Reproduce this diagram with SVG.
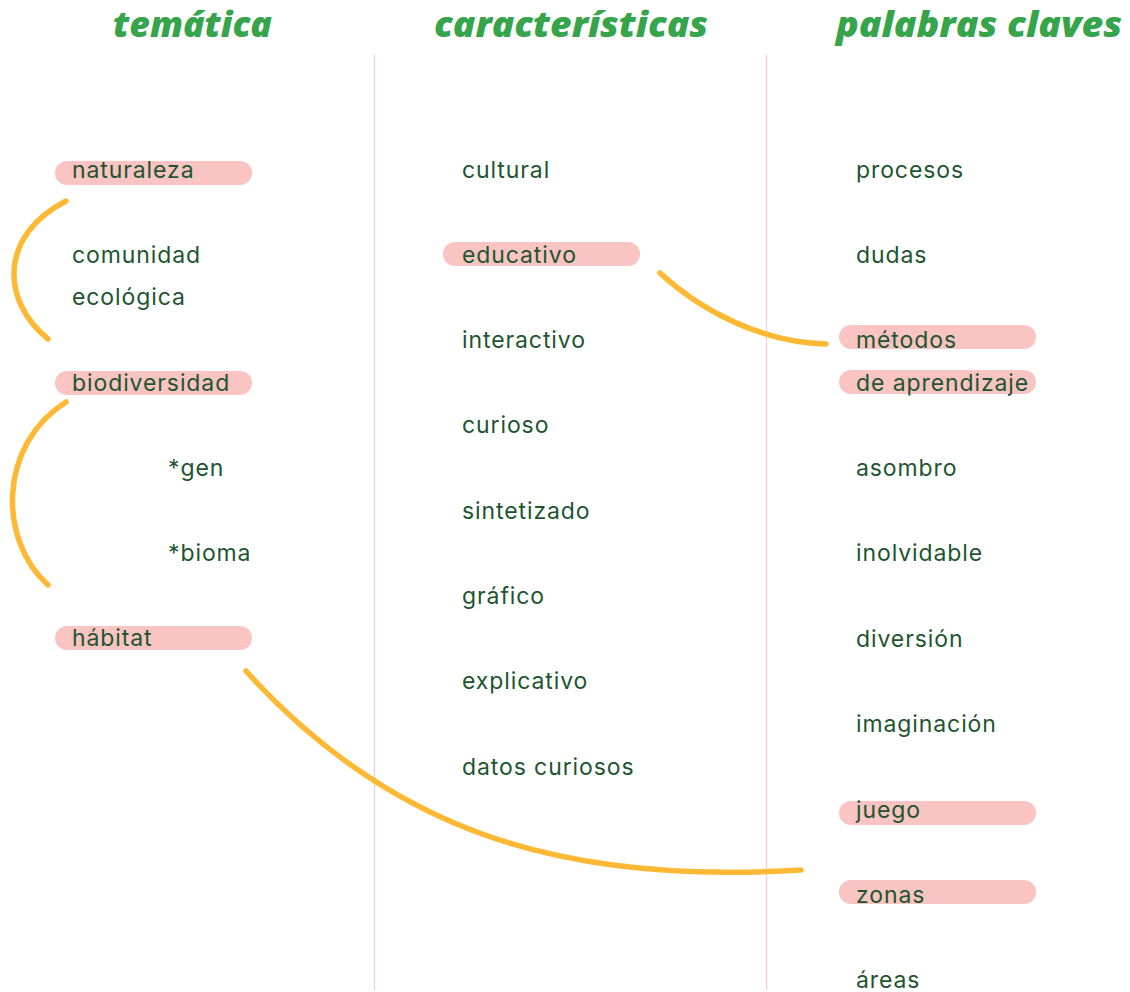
<svg xmlns="http://www.w3.org/2000/svg" width="1130" height="992" viewBox="0 0 1130 992">
<style>
.h{font-family:"Open Sans","Liberation Sans",sans-serif;font-weight:800;font-style:italic;font-size:36px;fill:#35a44a}
.t{font-family:Inter,"Liberation Sans",sans-serif;font-size:23px;letter-spacing:0.9px;fill:#1d5530}
.hl{fill:#f9c4c2}
.div{stroke:#f6cccc;stroke-width:1.2;fill:none}
.c{stroke:#fdb933;stroke-width:5.5;fill:none;stroke-linecap:round}
</style>
<rect width="1130" height="992" fill="#fff"/>
<g id="headers">
<text class="h" x="113" y="37" textLength="159" lengthAdjust="spacingAndGlyphs">temática</text>
<text class="h" x="434" y="37" textLength="274" lengthAdjust="spacingAndGlyphs">características</text>
<text class="h" x="836" y="37" textLength="286" lengthAdjust="spacingAndGlyphs">palabras claves</text>
</g>
<g id="dividers">
<line class="div" x1="374.5" y1="55" x2="374.5" y2="990"/>
<line class="div" x1="766.5" y1="55" x2="766.5" y2="990"/>
</g>
<g id="col1">
<g id="naturaleza"><rect class="hl" x="55" y="161" width="197" height="24" rx="12"/><text class="t" x="72" y="178">naturaleza</text></g>
<g id="comunidad"><text class="t" x="72" y="263">comunidad</text><text class="t" x="72" y="305">ecológica</text></g>
<g id="biodiversidad"><rect class="hl" x="55" y="371" width="197" height="24" rx="12"/><text class="t" x="72" y="391">biodiversidad</text></g>
<g id="gen"><text class="t" x="168" y="476">*gen</text></g>
<g id="bioma"><text class="t" x="168" y="561">*bioma</text></g>
<g id="habitat"><rect class="hl" x="55" y="626" width="197" height="24" rx="12"/><text class="t" x="72" y="646">hábitat</text></g>
</g>
<g id="col2">
<g id="cultural"><text class="t" x="462" y="178">cultural</text></g>
<g id="educativo"><rect class="hl" x="443" y="242" width="197" height="24" rx="12"/><text class="t" x="462" y="263">educativo</text></g>
<g id="interactivo"><text class="t" x="462" y="348">interactivo</text></g>
<g id="curioso"><text class="t" x="462" y="433">curioso</text></g>
<g id="sintetizado"><text class="t" x="462" y="519">sintetizado</text></g>
<g id="grafico"><text class="t" x="462" y="604">gráfico</text></g>
<g id="explicativo"><text class="t" x="462" y="689">explicativo</text></g>
<g id="datos"><text class="t" x="462" y="775">datos curiosos</text></g>
</g>
<g id="col3">
<g id="procesos"><text class="t" x="856" y="178">procesos</text></g>
<g id="dudas"><text class="t" x="856" y="263">dudas</text></g>
<g id="metodos"><rect class="hl" x="839" y="325" width="197" height="24" rx="12"/><text class="t" x="856" y="348">métodos</text></g>
<g id="aprendizaje"><rect class="hl" x="839" y="370" width="197" height="24" rx="12"/><text class="t" x="856" y="391">de aprendizaje</text></g>
<g id="asombro"><text class="t" x="856" y="476">asombro</text></g>
<g id="inolvidable"><text class="t" x="856" y="561">inolvidable</text></g>
<g id="diversion"><text class="t" x="856" y="647">diversión</text></g>
<g id="imaginacion"><text class="t" x="856" y="732">imaginación</text></g>
<g id="juego"><rect class="hl" x="839" y="801" width="197" height="24" rx="12"/><text class="t" x="856" y="818">juego</text></g>
<g id="zonas"><rect class="hl" x="839" y="880" width="197" height="24" rx="12"/><text class="t" x="856" y="903">zonas</text></g>
<g id="areas"><text class="t" x="856" y="988">áreas</text></g>
</g>
<g id="connectors">
<path class="c" d="M66,201 C0,235 0,300 48,339"/>
<path class="c" d="M66,402 C-2,445 -2,540 48,585"/>
<path class="c" d="M660,273 C700,310 760,342 826,344"/>
<path class="c" d="M246,671 C390,830 560,885 801,870"/>
</g>
</svg>
